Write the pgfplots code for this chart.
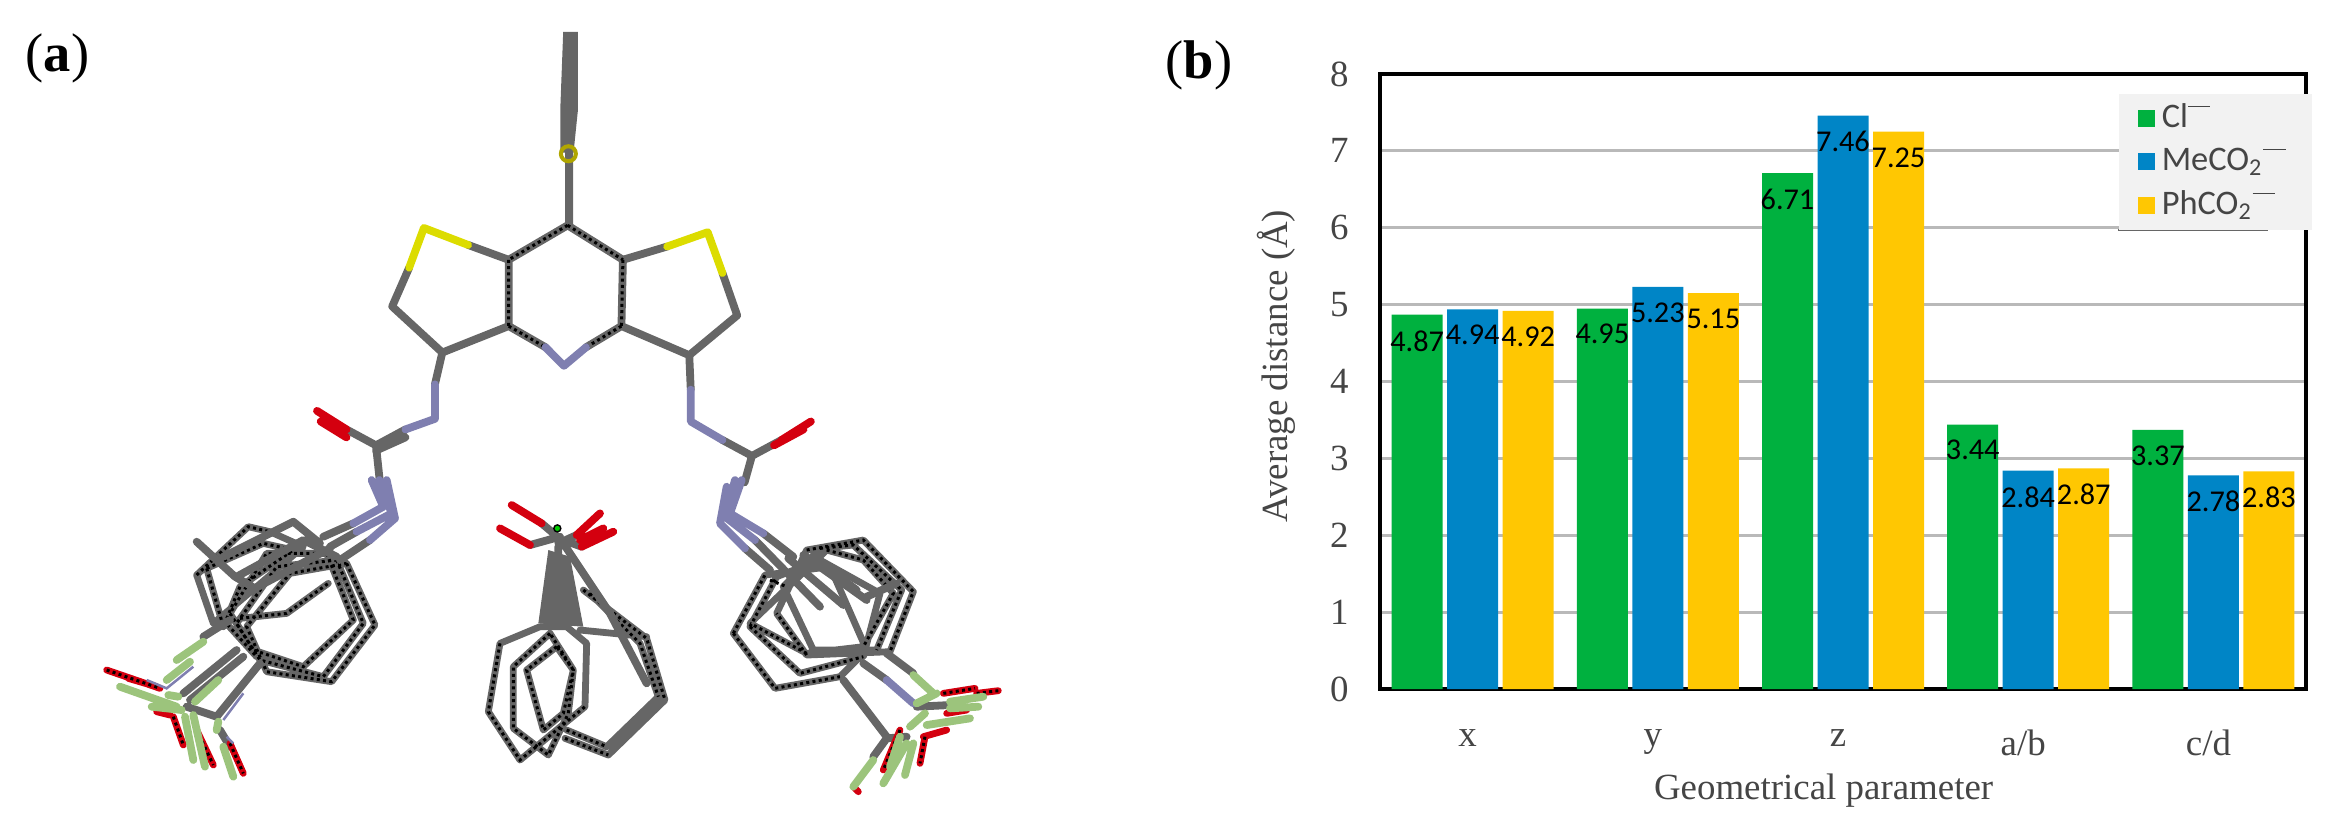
\documentclass[border=0pt]{standalone}
\usepackage{fontspec}
\setmainfont{Liberation Serif}
\newfontfamily\calfont{Carlito}
\usepackage{pgfplots}
\pgfplotsset{compat=1.18}
\definecolor{cgreen}{HTML}{00B13F}
\definecolor{cblue}{HTML}{0085C6}
\definecolor{cyellow}{HTML}{FFC702}
\definecolor{mgray}{HTML}{666666}
\definecolor{myellow}{HTML}{DCDC00}
\definecolor{mred}{HTML}{D4000F}
\definecolor{mblue}{HTML}{7F7FB0}
\definecolor{mfl}{HTML}{9CC47C}
\definecolor{txt}{HTML}{454545}
\pgfplotsset{
  bond/.style={draw=#1, line width=0.68mm, line cap=round, line join=round, no markers, forget plot, unbounded coords=jump},
  tube/.style={draw=#1, line width=0.78mm, line cap=round, line join=round, no markers, forget plot, unbounded coords=jump},
  dots/.style={draw=#1, line width=0.3mm, dash pattern=on 0.3mm off 0.33mm, no markers, forget plot, unbounded coords=jump},
  crop/.style={anchor=south west, scale only axis, hide axis, clip=false, y dir=reverse, xmin=0, ymin=0},
  sq/.style={legend image code/.code={\fill[#1] (0cm,-0.085cm) rectangle (0.17cm,0.085cm);}},
}
\newcommand{\supbar}{\raisebox{1.25ex}{\textcolor{txt}{\rule{0.65em}{0.35pt}}}}
\begin{document}
\begin{tikzpicture}
\useasboundingbox (0,0) rectangle (23.39cm,8.27cm);
% panel a, core, coordinates from a 1560x1560 view of the left 1150 px
\begin{axis}[crop, at={(0,0)}, width=11.5cm, height=8.27cm, xmax=1560, ymax=1560]
\addplot[draw=none, fill=mgray, forget plot] coordinates {(764,60) (784,60) (784,207) (778,288) (760,288) (760,207)} -- cycle;
\addplot[tube=mgray] coordinates {
 (772,280) (772,425) (nan,nan)
 (770,425) (690,490) (690,615) (740,655) (nan,nan)
 (770,425) (845,490) (843,615) (795,655) (nan,nan)
 (690,490) (635,462) (nan,nan)
 (555,505) (532,578) (600,665) (690,615) (nan,nan)
 (845,490) (905,465) (nan,nan)
 (980,515) (1000,595) (935,670) (843,615) (nan,nan)
 (600,665) (590,725) (nan,nan)
 (550,810) (510,840) (470,810) (nan,nan)
 (550,825) (510,850) (nan,nan)
 (510,840) (515,905) (nan,nan)
 (935,670) (937,735) (nan,nan)
 (980,830) (1020,860) (1060,830) (nan,nan)
 (1020,860) (1010,910)
};
\addplot[dots=black] coordinates {
 (770,425) (690,490) (nan,nan)
 (690,490) (690,615) (nan,nan)
 (690,615) (740,655) (nan,nan)
 (770,425) (845,490) (nan,nan)
 (845,490) (843,615) (nan,nan)
 (843,615) (795,655)
};
\addplot[tube=myellow] coordinates {
 (635,462) (575,430) (555,505) (nan,nan)
 (905,465) (960,438) (980,515)
};
\addplot[tube=mblue] coordinates {
 (740,655) (765,690) (795,655) (nan,nan)
 (590,725) (590,790) (550,810) (nan,nan)
 (937,735) (937,795) (980,830)
};
\addplot[tube=mred] coordinates {
 (470,810) (430,775) (nan,nan)
 (470,825) (435,795) (nan,nan)
 (1060,830) (1100,795) (nan,nan)
 (1050,840) (1090,810)
};
\addplot[only marks, mark=o, mark size=0.75mm, mark options={draw=olive!70!yellow, line width=0.4mm}, forget plot] coordinates {(771,290)};
\node[font=\fontsize{15.5}{18}\selectfont, text=black] at (axis cs:78,110) {(\textbf{a})};
\end{axis}
% left aryl group, crop x 90..410, y 480..800, 960 units across
\begin{axis}[crop, at={(0.9cm,0.27cm)}, width=3.2cm, height=3.2cm, xmax=960, ymax=960]
\addplot[bond=mgray] coordinates {
 (770,250) (855,435) (725,605) (530,575) (470,440) (600,280) (770,250) (nan,nan)
 (740,240) (820,430) (700,590) (510,540) (440,430) (560,260) (740,240) (nan,nan)
 (710,220) (790,420) (640,560) (490,510) (420,400) (530,220) (710,220) (nan,nan)
 (320,285) (475,140) (540,155) (640,200) (500,320) (370,430) (320,285) (nan,nan)
 (350,265) (520,190) (610,210) (450,320) (400,440) (350,265) (nan,nan)
 (400,420) (500,530) (nan,nan)
 (450,415) (590,400) (715,310)
};
\addplot[dots=black] coordinates {
 (770,250) (855,435) (725,605) (530,575) (470,440) (600,280) (770,250) (nan,nan)
 (740,240) (820,430) (700,590) (510,540) (440,430) (560,260) (740,240) (nan,nan)
 (710,220) (790,420) (640,560) (490,510) (420,400) (530,220) (710,220) (nan,nan)
 (320,285) (475,140) (540,155) (nan,nan)
 (350,265) (520,190) (610,210) (450,320) (400,440) (350,265) (nan,nan)
 (400,420) (500,530) (nan,nan)
 (450,415) (590,400) (715,310)
};
\addplot[tube=mgray] coordinates {
 (320,185) (435,290) (495,325) (720,205) (nan,nan)
 (400,230) (610,125) (690,190) (nan,nan)
 (440,290) (640,180) (740,230) (nan,nan)
 (700,170) (790,130) (nan,nan)
 (720,200) (800,155) (nan,nan)
 (750,240) (840,180) (nan,nan)
 (340,470) (420,420) (nan,nan)
 (280,640) (440,510) (nan,nan)
 (300,660) (460,530) (nan,nan)
 (380,710) (510,550) (nan,nan)
 (290,680) (380,710) (nan,nan)
 (390,750) (420,800)
};
\addplot[tube=mblue] coordinates {
 (790,130) (880,80) (845,0) (nan,nan)
 (800,155) (905,100) (868,0) (nan,nan)
 (840,180) (915,115) (890,0)
};
\addplot[bond=mred] coordinates {
 (50,570) (210,625) (nan,nan)
 (115,595) (200,620) (nan,nan)
 (250,710) (280,795) (nan,nan)
 (320,750) (370,855) (nan,nan)
 (420,790) (460,880) (nan,nan)
 (200,695) (240,705)
};
\addplot[dots=black] coordinates {
 (50,570) (210,625) (nan,nan)
 (250,710) (280,795) (nan,nan)
 (320,750) (370,855) (nan,nan)
 (420,790) (460,880)
};
\addplot[draw=mblue, line width=0.25mm, no markers, forget plot, unbounded coords=jump] coordinates {
 (170,600) (230,625) (310,560) (nan,nan)
 (400,720) (460,640) (nan,nan)
 (410,770) (430,790)
};
\addplot[tube=mfl] coordinates {
 (340,485) (260,540) (nan,nan)
 (300,545) (230,600) (nan,nan)
 (385,600) (315,665) (nan,nan)
 (90,620) (260,680) (nan,nan)
 (185,680) (275,690) (nan,nan)
 (235,645) (265,650) (nan,nan)
 (285,710) (310,840) (nan,nan)
 (310,705) (345,860) (nan,nan)
 (385,725) (380,750) (nan,nan)
 (400,800) (430,890)
};
\end{axis}
% carboxylate, crop x 470..690, y 480..800
\begin{axis}[crop, at={(4.7cm,0.27cm)}, width=2.2cm, height=3.2cm, xmax=660, ymax=960]
\addplot[bond=mgray] coordinates {
 (210,440) (90,490) (55,695) (150,840) (345,680) (350,490) (290,440) (210,440) (nan,nan)
 (240,460) (130,560) (130,745) (235,825) (295,700) (310,570) (240,460) (nan,nan)
 (260,500) (170,570) (220,750) (280,700) (310,570) (260,500) (nan,nan)
 (340,330) (530,475) (585,660) (415,825) (285,775) (nan,nan)
 (360,340) (510,490) (565,650) (410,800) (290,750) (nan,nan)
 (330,450) (530,470)
};
\addplot[dots=black] coordinates {
 (90,490) (55,695) (150,840) (345,680) (nan,nan)
 (240,460) (130,560) (130,745) (235,825) (295,700) (310,570) (240,460) (nan,nan)
 (260,500) (170,570) (220,750) (280,700) (310,570) (260,500) (nan,nan)
 (340,330) (530,475) (585,660) (nan,nan)
 (360,340) (510,490) (565,650) (nan,nan)
 (290,750) (410,800) (nan,nan)
 (285,775) (415,825)
};
\addplot[draw=none, fill=mgray, forget plot] coordinates {(235,210) (300,230) (340,440) (205,430)} -- cycle;
\addplot[tube=mgray] coordinates {
 (215,130) (280,185) (nan,nan)
 (180,195) (270,170) (nan,nan)
 (320,165) (265,190) (nan,nan)
 (335,200) (280,180) (nan,nan)
 (265,200) (260,420) (nan,nan)
 (280,190) (420,400) (530,610)
};
\addplot[tube=mred] coordinates {
 (125,75) (215,130) (nan,nan)
 (90,145) (180,195) (nan,nan)
 (390,100) (320,165) (nan,nan)
 (430,155) (335,200) (nan,nan)
 (400,145) (330,180)
};
\addplot[only marks, mark=*, mark size=0.35mm, draw=none, fill=green!80!black, forget plot] coordinates {(262,145)};
\end{axis}
% right aryl group, crop x 720..1040, y 480..800
\begin{axis}[crop, at={(7.2cm,0.27cm)}, width=3.2cm, height=3.2cm, xmax=960, ymax=960]
\addplot[bond=mgray] coordinates {
 (40,460) (135,285) (330,260) (440,510) (360,590) (165,625) (40,460) (nan,nan)
 (90,440) (170,290) (300,240) (480,340) (430,530) (240,580) (90,440) (nan,nan)
 (260,210) (430,180) (580,335) (510,515) (260,525) (170,400) (260,210) (nan,nan)
 (300,205) (400,195) (545,330) (470,510) (280,510) (190,320) (300,205) (nan,nan)
 (320,210) (430,240) (520,340) (430,500) (260,520) (90,430) (320,210)
};
\addplot[dots=black] coordinates {
 (40,460) (135,285) (nan,nan)
 (40,460) (165,625) (360,590) (nan,nan)
 (90,440) (170,290) (nan,nan)
 (90,440) (240,580) (430,530) (nan,nan)
 (260,210) (430,180) (580,335) (510,515) (nan,nan)
 (300,205) (400,195) (545,330) (470,510) (nan,nan)
 (320,210) (430,240) (520,340) (430,500) (nan,nan)
 (260,525) (170,400) (nan,nan)
 (260,520) (90,430) (nan,nan)
 (150,300) (200,320)
};
\addplot[tube=mgray] coordinates {
 (130,160) (220,230) (nan,nan)
 (105,180) (300,380) (nan,nan)
 (75,205) (150,270) (nan,nan)
 (205,235) (370,375) (nan,nan)
 (250,225) (440,360) (nan,nan)
 (290,240) (410,330) (nan,nan)
 (440,350) (530,310) (nan,nan)
 (370,600) (500,770) (nan,nan)
 (430,550) (500,600) (nan,nan)
 (500,520) (580,580) (nan,nan)
 (590,680) (690,675) (nan,nan)
 (460,830) (500,775) (560,770)
};
\addplot[tube=mblue] coordinates {
 (65,0) (30,100) (130,160) (nan,nan)
 (45,0) (15,110) (105,180) (nan,nan)
 (20,20) (0,130) (75,205) (nan,nan)
 (500,600) (580,670)
};
\addplot[bond=mred] coordinates {
 (670,640) (765,625) (nan,nan)
 (770,640) (835,632) (nan,nan)
 (680,700) (740,690) (nan,nan)
 (610,770) (680,750) (nan,nan)
 (615,770) (600,850) (nan,nan)
 (540,750) (490,870) (nan,nan)
 (405,925) (415,935)
};
\addplot[dots=black] coordinates {
 (670,640) (765,625) (nan,nan)
 (770,640) (835,632) (nan,nan)
 (615,770) (600,850) (nan,nan)
 (540,750) (490,870)
};
\addplot[tube=mfl] coordinates {
 (580,585) (640,640) (nan,nan)
 (590,670) (650,640) (nan,nan)
 (690,665) (790,650) (nan,nan)
 (690,685) (775,680) (nan,nan)
 (620,735) (750,715) (nan,nan)
 (570,740) (615,700) (nan,nan)
 (560,790) (490,910) (nan,nan)
 (580,790) (555,885) (nan,nan)
 (540,770) (510,860) (nan,nan)
 (460,840) (400,920)
};
\end{axis}
% panel b
\node[font=\fontsize{15.5}{18}\selectfont, text=black] at (11.99cm,7.62cm) {(\textbf{b})};
\begin{axis}[at={(13.80cm,1.38cm)}, anchor=south west, scale only axis, width=9.26cm, height=6.15cm,
  ybar=0.45mm, bar width=5.1mm,
  xmin=0.5, xmax=5.5, ymin=0, ymax=8,
  xtick={1,2,3,4,5}, xticklabels={x,y,z,a/b,c/d},
  ytick={0,1,2,3,4,5,6,7,8},
  tick style={draw=none},
  axis line style={draw=black, line width=0.35mm},
  ymajorgrids, grid style={draw=gray!55, line width=0.3mm},
  /pgf/number format/assume math mode=true,
  tick label style={font=\fontsize{10.5}{12}\selectfont, text=txt},
  xticklabel style={yshift=-1.3mm, xshift=-0.5mm},
  yticklabel style={xshift=-1.9mm},
  xlabel={Geometrical parameter}, ylabel={Average distance (Å)},
  label style={font=\fontsize{10.5}{12}\selectfont, text=txt},
  xlabel style={at={(axis description cs:0.479,-0.166)}, anchor=center},
  ylabel style={at={(axis description cs:-0.112,0.525)}, anchor=center},
  nodes near coords,
  nodes near coords style={font=\calfont\fontsize{8.6}{10}\selectfont, text=black, anchor=north, yshift=-1.5mm, inner sep=0pt,
    /pgf/number format/.cd, fixed, fixed zerofill, precision=2, assume math mode=true},
  legend style={at={(0.797,0.969)}, anchor=north west, draw=none, fill=gray!10, font=\calfont\fontsize{9.8}{11}\selectfont,
    text=txt, row sep=0.1mm, inner xsep=1.9mm, inner ysep=0.3mm},
  legend cell align=left,
]
\addplot[fill=cgreen, draw=none, sq=cgreen] coordinates {(1,4.87) (2,4.95) (3,6.71) (4,3.44) (5,3.37)};
\addplot[fill=cblue, draw=none, sq=cblue] coordinates {(1,4.94) (2,5.23) (3,7.46) (4,2.84) (5,2.78)};
\addplot[fill=cyellow, draw=none, sq=cyellow] coordinates {(1,4.92) (2,5.15) (3,7.25) (4,2.87) (5,2.83)};
\addlegendentry{Cl\supbar}
\addlegendentry{MeCO\textsubscript{2}\supbar}
\addlegendentry{PhCO\textsubscript{2}\supbar}
\draw[gray!80!black, line width=0.25mm] (rel axis cs:0.797,0.746) -- (rel axis cs:0.959,0.746);
\end{axis}
\end{tikzpicture}
\end{document}
